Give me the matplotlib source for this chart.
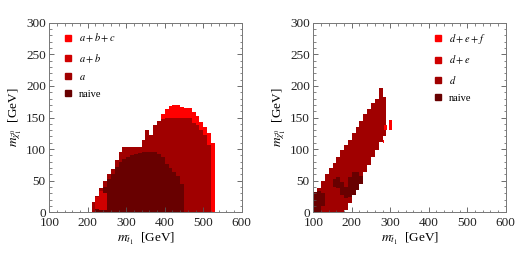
import matplotlib
matplotlib.use('Agg')
import matplotlib.pyplot as plt
import numpy as np
from matplotlib.ticker import MultipleLocator
from matplotlib.lines import Line2D

plt.rcParams['font.family'] = ['Liberation Serif', 'DejaVu Serif']
plt.rcParams['mathtext.fontset'] = 'stix'

# left panel: columns of 10 GeV in stop mass, upper edge of each region
left_x = np.arange(210, 530, 10)
abc_top = [16, 26, 38, 50, 60, 68, 82, 96, 104, 104, 104, 104, 104, 115, 130, 123,
           138, 145, 155, 163, 168, 170, 170, 167, 165, 165, 158, 152, 143, 135, 125, 110]
a_top = [16, 26, 38, 50, 60, 68, 82, 96, 104, 104, 104, 104, 104, 115, 130, 123,
         138, 145, 148, 150, 150, 150, 150, 150, 150, 149, 142, 138, 130, 122, 106, 0]
naive_left_x = np.arange(220, 450, 10)
naive_left_top = [12, 25, 40, 52, 60, 72, 80, 85, 88, 90, 92, 94, 95, 95, 95,
                  95, 93, 88, 76, 70, 64, 57, 45]
ab_x = [220, 230, 240]
ab_low = [5, 4, 4]
ab_high = [25, 33, 30]

# right panel
right_x = np.arange(100, 290, 10)
d_low = [0, 0, 0, 0, 0, 0, 0, 0, 3, 15, 27, 39, 51, 63, 75, 87, 99, 111, 120]
d_high = [25, 38, 50, 60, 70, 78, 88, 98, 106, 115, 125, 135, 145, 155, 163, 173, 180, 197, 183]
def_x = [282, 283, 296]
def_low = [109, 130, 130]
def_high = [115, 138, 146]
naive_right_x = [100, 110, 120, 150, 160, 170, 180, 190, 200, 210, 220]
naive_right_low = [0, 0, 10, 40, 38, 28, 22, 24, 28, 35, 45]
naive_right_high = [32, 34, 30, 52, 56, 48, 40, 56, 64, 63, 58]

c_abc = "#ff0000"
c_ab = "#d00000"
c_a = "#a00000"
c_naive = "#680000"


def cols(ax, x, low, high, color, width=10):
    # each run of touching columns becomes one stepped polygon
    x = np.asarray(x, dtype=float)
    low = np.broadcast_to(np.asarray(low, dtype=float), x.shape)
    high = np.asarray(high, dtype=float)
    breaks = np.where(np.diff(x) > width)[0] + 1
    for idx in np.split(np.arange(len(x)), breaks):
        xs = np.append(x[idx], x[idx[-1]] + width)
        lo = np.append(low[idx], low[idx[-1]])
        hi = np.append(high[idx], high[idx[-1]])
        ax.fill_between(xs, lo, hi, step='post', color=color, linewidth=0)


def style(ax, labels, colors, legend_x):
    ax.set_xlim(100, 600)
    ax.set_ylim(0, 300)
    ax.xaxis.set_major_locator(MultipleLocator(100))
    ax.xaxis.set_minor_locator(MultipleLocator(20))
    ax.yaxis.set_major_locator(MultipleLocator(50))
    ax.yaxis.set_minor_locator(MultipleLocator(10))
    ax.tick_params(which='both', direction='in', top=True, right=True,
                   colors='#555555', labelcolor='#222222', labelsize=9.5)
    ax.tick_params(axis='x', pad=3.5)
    ax.tick_params(axis='y', pad=2.5)
    ax.tick_params(which='major', length=3.5, width=0.6)
    ax.tick_params(which='minor', length=1.8, width=0.5)
    for lab in ax.get_yticklabels():
        lab.set_verticalalignment('center_baseline')
    for s in ax.spines.values():
        s.set_color('#777777')
        s.set_linewidth(0.7)
    ax.set_xlabel(r'$m_{\tilde{t}_1}$  [GeV]', fontsize=9.5, labelpad=1)
    ax.set_ylabel(r'$m_{\tilde{\chi}^0_1}$  [GeV]', fontsize=9.5, labelpad=1)
    handles = [Line2D([], [], ls='none', marker='s', markersize=4.5,
                      markerfacecolor=c, markeredgecolor=c) for c in colors]
    ax.legend(handles, labels, loc='upper left', bbox_to_anchor=(legend_x, 0.975),
              frameon=False, fontsize=7.5, labelspacing=0.75, handlelength=1.0,
              handletextpad=0.5, borderaxespad=0)


fig = plt.figure(figsize=(5.15, 2.67), dpi=100)
ax1 = fig.add_axes([49.3 / 515, 54.7 / 267, 192.4 / 515, 189.6 / 267])
ax2 = fig.add_axes([313.3 / 515, 54.7 / 267, 192.4 / 515, 189.6 / 267])

cols(ax1, left_x, 0, abc_top, c_abc)
cols(ax1, left_x, 0, a_top, c_a)
cols(ax1, naive_left_x, 0, naive_left_top, c_naive)
cols(ax1, ab_x, ab_low, ab_high, c_ab)
style(ax1, [r'$a + b + c$', r'$a + b$', r'$a$', 'naive'],
      [c_abc, c_ab, c_a, c_naive], 0.05)

cols(ax2, right_x, d_low, d_high, c_a)
cols(ax2, def_x, def_low, def_high, c_abc, width=8)
cols(ax2, naive_right_x, naive_right_low, naive_right_high, c_naive)
style(ax2, [r'$d + e + f$', r'$d + e$', r'$d$', 'naive'],
      [c_abc, c_ab, c_a, c_naive], 0.6)

fig.savefig('out.png', dpi=100)
